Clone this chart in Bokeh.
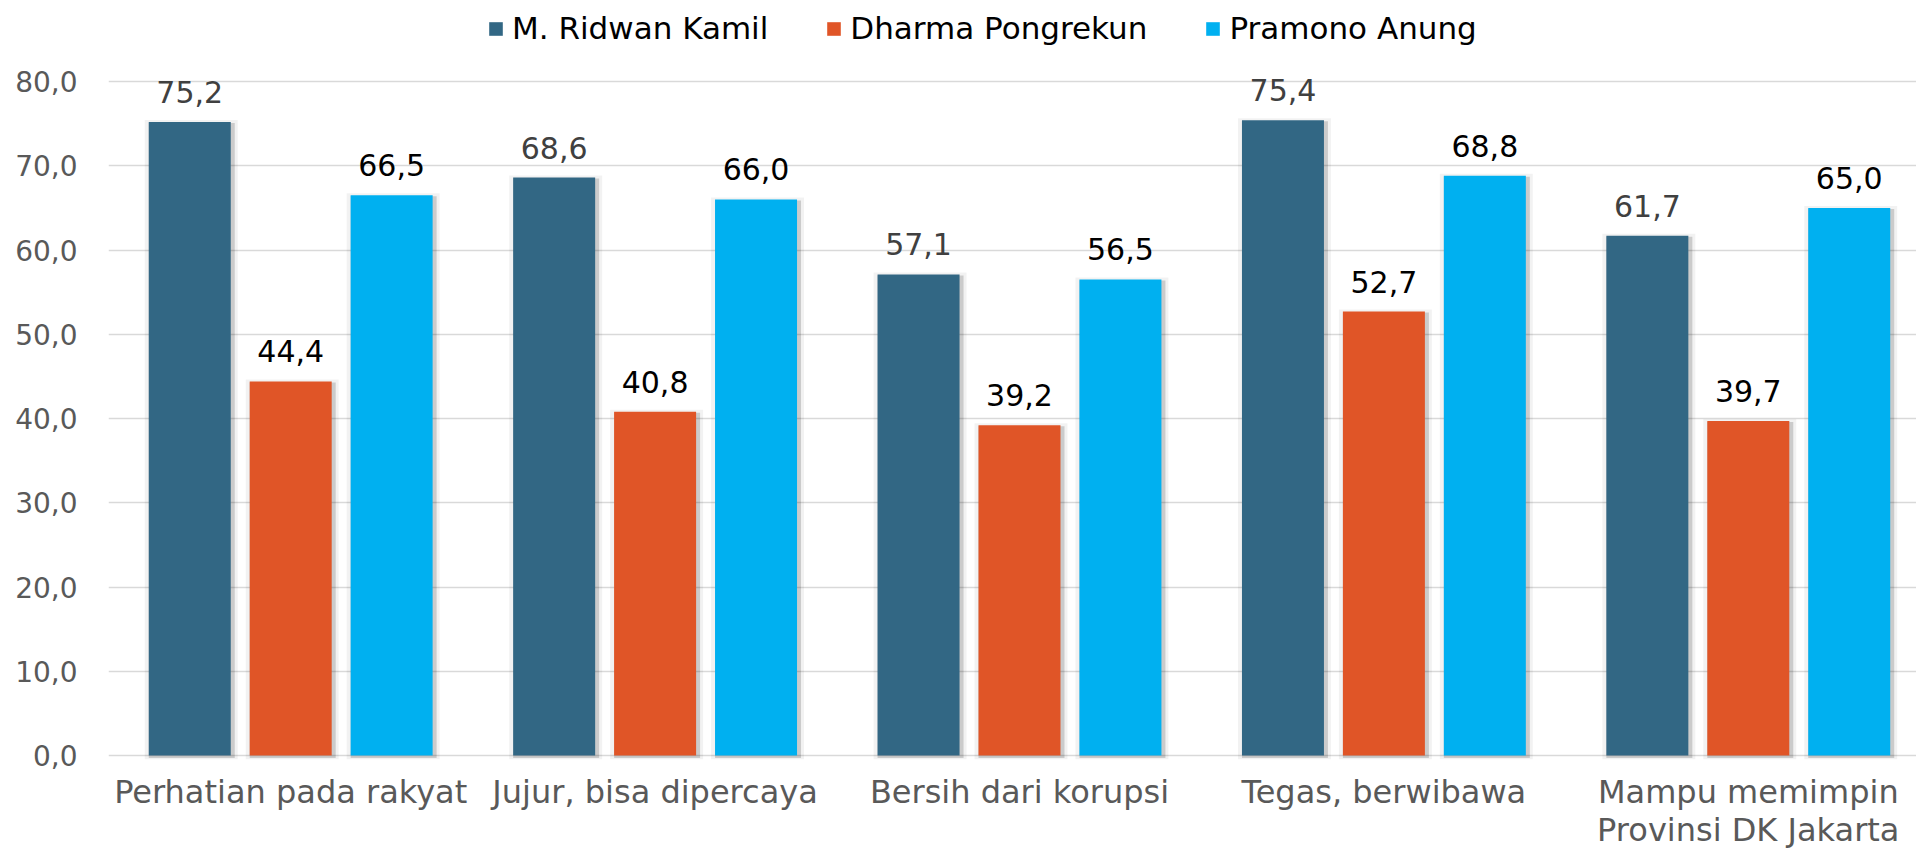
from bokeh.plotting import figure
from bokeh.models import (Range1d, FixedTicker, CustomJSTickFormatter, Legend, LegendItem,
                          ColumnDataSource)
from bokeh.transform import dodge
from bokeh.core.properties import value
from bokeh.embed import file_html
from bokeh.resources import INLINE

categories = ["Perhatian pada rakyat", "Jujur, bisa dipercaya", "Bersih dari korupsi",
              "Tegas, berwibawa", "Mampu memimpin\nProvinsi DK Jakarta"]
series_names = ["M. Ridwan Kamil", "Dharma Pongrekun", "Pramono Anung"]
ridwan = [75.2, 68.6, 57.1, 75.4, 61.7]
dharma = [44.4, 40.8, 39.2, 52.7, 39.7]
pramono = [66.5, 66.0, 56.5, 68.8, 65.0]
y_ticks = [0, 10, 20, 30, 40, 50, 60, 70, 80]

colors = ["#326784", "#E05527", "#00B0F0"]
label_colors = ["#404040", "#000000", "#000000"]
FONT = "DejaVu Sans"

W, H = 1916, 851
LEFT = 108
FRAME_H = 759
X0, X1 = -0.5, 4.4616
px_x = (X1 - X0) / (W - LEFT)       # data units per pixel (x)
px_y = 80 / 674.0                    # data units per pixel (y)
Y0, Y1 = -4 * px_y, 80 + 81 * px_y

bar_w = 0.225
offsets = [-0.277, 0.0, 0.277]

idx = list(range(len(categories)))

p = figure(width=W, height=H, x_range=Range1d(X0, X1), y_range=Range1d(Y0, Y1),
           output_backend="svg", toolbar_location=None,
           min_border_left=LEFT, min_border_right=0, min_border_top=0,
           min_border_bottom=H - FRAME_H)
p.outline_line_color = None
p.background_fill_color = "white"
p.border_fill_color = "white"

renderers = []
for j, vals in enumerate([ridwan, dharma, pramono]):
    src = ColumnDataSource(dict(
        idx=idx,
        top=vals,
        sh1=[v + 2 * px_y for v in vals],
        sh2=[v - 1 * px_y for v in vals],
        lbl=[f"{v:.1f}".replace(".", ",") for v in vals],
    ))
    p.vbar(x=dodge("idx", offsets[j] + 1.5 * px_x, range=p.x_range), width=bar_w + 11 * px_x,
           top="sh1", bottom=-4 * px_y, fill_color="black", fill_alpha=0.05, line_color=None,
           source=src)
    p.vbar(x=dodge("idx", offsets[j] + 2 * px_x, range=p.x_range), width=bar_w + 4 * px_x,
           top="sh2", bottom=-2.5 * px_y, fill_color="black", fill_alpha=0.16, line_color=None,
           source=src)
    r = p.vbar(x=dodge("idx", offsets[j], range=p.x_range), width=bar_w, top="top", bottom=0,
               fill_color=colors[j], line_color=None, source=src)
    renderers.append(r)
    p.text(x=dodge("idx", offsets[j], range=p.x_range), y="top", text="lbl", source=src,
           text_align="center", text_baseline="middle", y_offset=-30,
           text_font=value(FONT), text_font_size="30px", text_color=label_colors[j])

p.ygrid.ticker = FixedTicker(ticks=y_ticks)
p.ygrid.grid_line_color = "#d9d9d9"
p.ygrid.grid_line_width = 1.5
p.xgrid.visible = False

p.yaxis.ticker = FixedTicker(ticks=y_ticks)
p.yaxis.formatter = CustomJSTickFormatter(code="return tick.toFixed(1).replace('.', ',');")
p.yaxis.axis_line_color = None
p.yaxis.major_tick_line_color = None
p.yaxis.minor_tick_line_color = None
p.yaxis.major_tick_out = 0
p.yaxis.major_tick_in = 0
p.yaxis.major_label_standoff = 31
p.yaxis.major_label_text_font = FONT
p.yaxis.major_label_text_font_size = "28px"
p.yaxis.major_label_text_color = "#595959"

p.xaxis.ticker = FixedTicker(ticks=idx)
p.xaxis.major_label_overrides = {i: c for i, c in zip(idx, categories)}
p.xaxis.axis_line_color = None
p.xaxis.major_tick_line_color = None
p.xaxis.minor_tick_line_color = None
p.xaxis.major_tick_out = 0
p.xaxis.major_tick_in = 0
p.xaxis.major_label_standoff = 13
p.xaxis.major_label_text_font = FONT
p.xaxis.major_label_text_font_size = "32px"
p.xaxis.major_label_text_color = "#595959"
p.xaxis.major_label_text_line_height = 1.0

legend = Legend(items=[LegendItem(label=n, renderers=[r]) for n, r in zip(series_names, renderers)],
                orientation="horizontal", location=(379, 713),
                glyph_width=17, glyph_height=17, label_standoff=8, spacing=57,
                padding=0, margin=0, border_line_color=None, background_fill_alpha=0,
                label_text_font=FONT, label_text_font_size="31px", label_text_color="#000000")
p.add_layout(legend)

open("out.html", "w").write(file_html(p, INLINE))
